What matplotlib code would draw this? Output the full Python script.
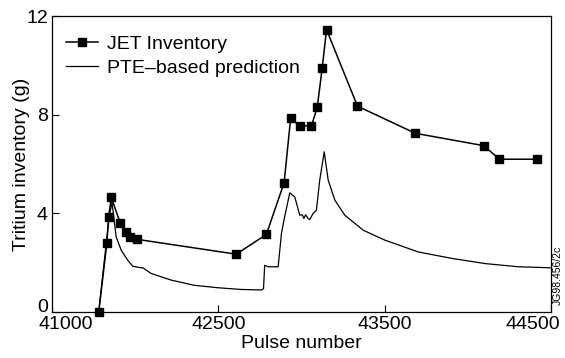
import matplotlib
matplotlib.use("Agg")
import matplotlib.pyplot as plt
from matplotlib.transforms import ScaledTranslation

plt.rcParams['font.family'] = ['Liberation Sans', 'DejaVu Sans']

# JET measured tritium inventory (pulse number, grams)
jet_pulse = [41781, 41830, 41840, 41857, 41911, 41946, 41970, 42014, 42608,
             42789, 42896, 42935, 42990, 43060, 43095, 43125, 43151, 43337,
             43685, 44096, 44191, 44416]
jet_inv = [0.0, 2.8, 3.85, 4.65, 3.6, 3.25, 3.05, 2.95, 2.35,
           3.15, 5.25, 7.85, 7.55, 7.55, 8.3, 9.9, 11.45, 8.35,
           7.25, 6.75, 6.2, 6.2]

# PTE-based prediction
pte_pulse = [41781, 41815, 41845, 41861, 41886, 41917, 41956, 41986, 42026,
             42046, 42096, 42217, 42355, 42498, 42639, 42759, 42772, 42779,
             42799, 42860, 42880, 42899, 42930, 42945, 42960, 42975, 42990,
             43005, 43015, 43025, 43040, 43050, 43070, 43090, 43110, 43137,
             43161, 43201, 43261, 43372, 43502, 43703, 43904, 44104, 44305,
             44496]
pte_inv = [0.0, 2.1, 3.9, 4.45, 3.05, 2.5, 2.1, 1.86, 1.81,
           1.8, 1.57, 1.30, 1.09, 0.99, 0.92, 0.9, 0.95, 1.9,
           1.84, 1.84, 3.2, 3.86, 4.84, 4.75, 4.67, 4.3, 3.93,
           3.95, 3.8, 3.95, 3.8, 3.75, 4.0, 4.13, 5.35, 6.5,
           5.35, 4.54, 3.93, 3.32, 2.92, 2.44, 2.18, 1.97, 1.84,
           1.8]

xticks = [41500, 42500, 43500, 44500]
xtick_labels = ['41000', '42500', '43500', '44500']
yticks = [0, 4, 8, 12]

fig = plt.figure(figsize=(5.65, 3.58), dpi=100)
ax = fig.add_axes([0.092, 0.128, 0.883, 0.827])

ax.plot(jet_pulse, jet_inv, color='black', lw=1.1, marker='s', ms=5.5,
        label='JET Inventory', clip_on=False, zorder=3)
ax.plot(pte_pulse, pte_inv, color='black', lw=0.9, label='PTE\u2013based prediction')

ax.set_xlim(41500, 44500)
ax.set_ylim(0, 12)
ax.set_xticks(xticks)
ax.set_xticklabels(xtick_labels)
ax.set_yticks(yticks)
ax.tick_params(direction='in', labelsize=14, length=5, width=0.8, pad=3)
for s in ax.spines.values():
    s.set_linewidth(0.9)

# first and last x labels sit inside the axis ends, as in the original
labels = ax.get_xticklabels()
labels[0].set_transform(labels[0].get_transform() + ScaledTranslation(0.14, 0, fig.dpi_scale_trans))
labels[-1].set_transform(labels[-1].get_transform() + ScaledTranslation(-0.18, 0, fig.dpi_scale_trans))
# the "0" on the y axis is lifted a little above the corner
ylabels = ax.get_yticklabels()
ylabels[0].set_transform(ylabels[0].get_transform() + ScaledTranslation(0, 0.07, fig.dpi_scale_trans))

ax.set_xlabel('Pulse number', fontsize=14, labelpad=1)
ax.set_ylabel('Tritium inventory (g)', fontsize=14)
ax.yaxis.set_label_coords(-0.045, 0.5)

ax.legend(loc='upper left', bbox_to_anchor=(-0.01, 1.0), fontsize=14,
          frameon=False, handlelength=1.6, handletextpad=0.5,
          borderaxespad=0.7, labelspacing=0.3, borderpad=0.3)

fig.text(0.988, 0.23, 'JG98.456/2c', rotation=90, fontsize=7.5,
         ha='center', va='center')

fig.savefig('out.png', dpi=100)
